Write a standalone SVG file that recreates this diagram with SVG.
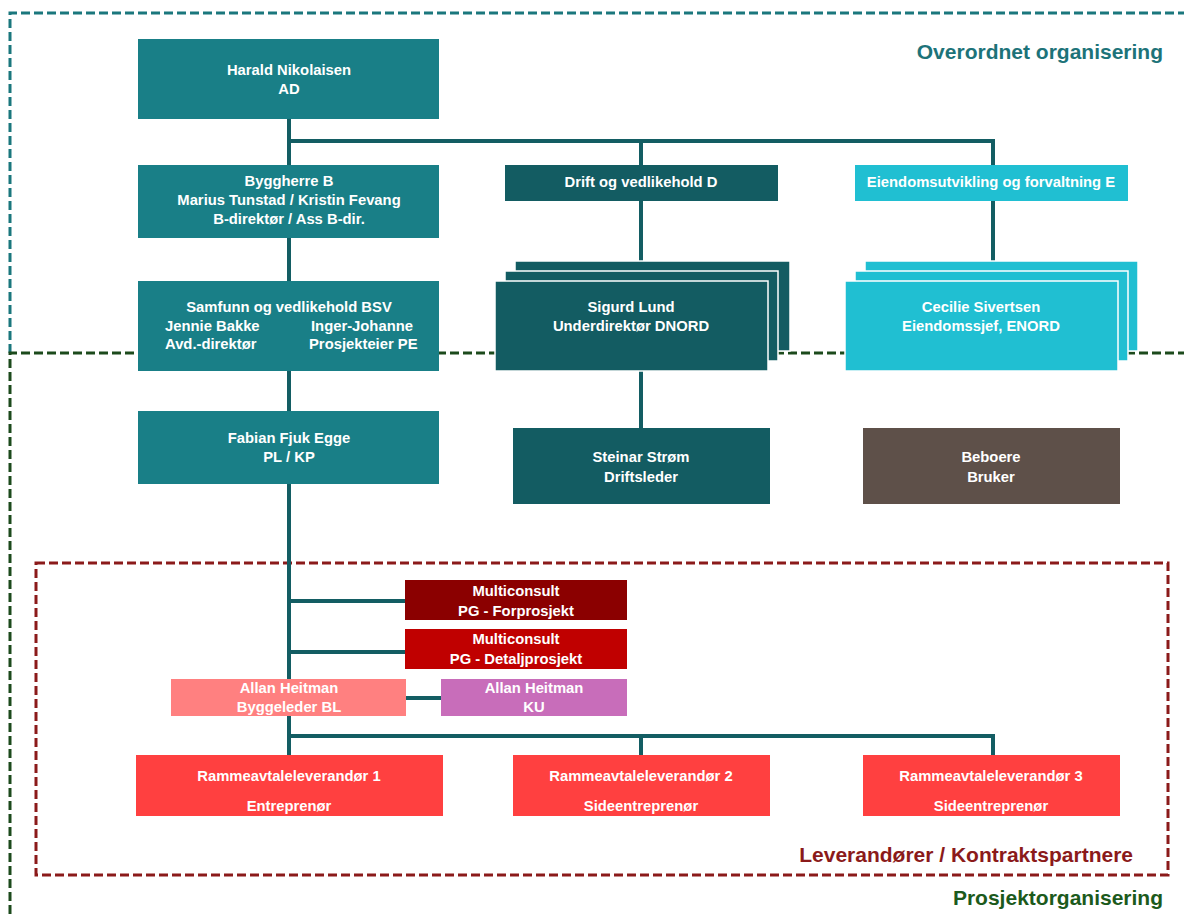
<svg xmlns="http://www.w3.org/2000/svg" width="1184" height="914" viewBox="0 0 1184 914">
<style>
.t{font-family:"Liberation Sans",Arial,sans-serif;font-weight:bold;font-size:14.8px;fill:#ffffff;text-anchor:middle}
.l{text-anchor:start}
.cap{font-family:"Liberation Sans",Arial,sans-serif;font-weight:bold;font-size:21px;text-anchor:end}
.c{stroke:#135d63;stroke-width:4;fill:none}
.teal{fill:#197f87}
.dark{fill:#135c62}
.cyan{fill:#20bfd2}
.red{fill:#ff4040}
.w{stroke:#ffffff;stroke-width:1.5}
</style>
<rect width="1184" height="914" fill="#ffffff"/>
<g id="frames" fill="none" stroke-width="3">
<path d="M10,353 V13 H1190" stroke="#1a777d" stroke-dasharray="9,4"/>
<path d="M10,914 V353 H1190" stroke="#1c4a1c" stroke-dasharray="9,4"/>
<rect x="36" y="563" width="1132" height="312" stroke="#8b1a1a" stroke-dasharray="9,4"/>
</g>
<g id="connectors" class="c">
<path d="M289,119 V411"/>
<path d="M289,141 H993 V261"/>
<path d="M641,141 V261"/>
<path d="M641,371 V428"/>
<path d="M289,484 V755"/>
<path d="M289,601 H405"/>
<path d="M289,652 H405"/>
<path d="M406,698 H441"/>
<path d="M289,736 H993 V755"/>
<path d="M641,736 V755"/>
</g>
<g id="harald"><rect class="teal" x="138" y="39" width="301" height="80"/><text class="t" x="289" y="75">Harald Nikolaisen</text><text class="t" x="289" y="94">AD</text></g>
<g id="byggherre"><rect class="teal" x="138" y="165" width="301" height="73"/><text class="t" x="289" y="186">Byggherre B</text><text class="t" x="289" y="205">Marius Tunstad / Kristin Fevang</text><text class="t" x="289" y="224">B-direktør / Ass B-dir.</text></g>
<g id="drift"><rect class="dark" x="505" y="165" width="273" height="36"/><text class="t" x="641" y="187">Drift og vedlikehold D</text></g>
<g id="eiendom"><rect class="cyan" x="855" y="165" width="273" height="36"/><text class="t" x="991" y="187">Eiendomsutvikling og forvaltning E</text></g>
<g id="samfunn"><rect class="teal" x="138" y="281" width="301" height="90"/><text class="t" x="289" y="312">Samfunn og vedlikehold BSV</text><text class="t l" x="165" y="331">Jennie Bakke</text><text class="t l" x="311" y="331">Inger-Johanne</text><text class="t l" x="165" y="349">Avd.-direktør</text><text class="t l" x="309" y="349">Prosjekteier PE</text></g>
<g id="sigurd"><rect class="dark w" x="515" y="261" width="275" height="90"/><rect class="dark w" x="505" y="271" width="273" height="90"/><rect class="dark w" x="495" y="281" width="273" height="90"/><text class="t" x="631" y="312">Sigurd Lund</text><text class="t" x="631" y="331">Underdirektør DNORD</text></g>
<g id="cecilie"><rect class="cyan w" x="865" y="261" width="273" height="90"/><rect class="cyan w" x="855" y="271" width="273" height="90"/><rect class="cyan w" x="845" y="281" width="273" height="90"/><text class="t" x="981" y="312">Cecilie Sivertsen</text><text class="t" x="981" y="331">Eiendomssjef, ENORD</text></g>
<g id="fabian"><rect class="teal" x="138" y="411" width="301" height="73"/><text class="t" x="289" y="443">Fabian Fjuk Egge</text><text class="t" x="289" y="462">PL / KP</text></g>
<g id="steinar"><rect class="dark" x="513" y="428" width="257" height="76"/><text class="t" x="641" y="462">Steinar Strøm</text><text class="t" x="641" y="482">Driftsleder</text></g>
<g id="beboere"><rect fill="#5e5049" x="863" y="428" width="257" height="76"/><text class="t" x="991" y="462">Beboere</text><text class="t" x="991" y="482">Bruker</text></g>
<g id="mc1"><rect fill="#8b0000" x="405" y="580" width="222" height="40"/><text class="t" x="516" y="596">Multiconsult</text><text class="t" x="516" y="616">PG - Forprosjekt</text></g>
<g id="mc2"><rect fill="#c00000" x="405" y="629" width="222" height="40"/><text class="t" x="516" y="644">Multiconsult</text><text class="t" x="516" y="664">PG - Detaljprosjekt</text></g>
<g id="allanbl"><rect fill="#ff8080" x="171" y="679" width="235" height="37"/><text class="t" x="289" y="693">Allan Heitman</text><text class="t" x="289" y="712">Byggeleder BL</text></g>
<g id="allanku"><rect fill="#c86dba" x="441" y="679" width="186" height="37"/><text class="t" x="534" y="693">Allan Heitman</text><text class="t" x="534" y="712">KU</text></g>
<g id="r1"><rect class="red" x="136" y="755" width="307" height="61"/><text class="t" x="289" y="781">Rammeavtaleleverandør 1</text><text class="t" x="289" y="811">Entreprenør</text></g>
<g id="r2"><rect class="red" x="513" y="755" width="257" height="61"/><text class="t" x="641" y="781">Rammeavtaleleverandør 2</text><text class="t" x="641" y="811">Sideentreprenør</text></g>
<g id="r3"><rect class="red" x="863" y="755" width="257" height="61"/><text class="t" x="991" y="781">Rammeavtaleleverandør 3</text><text class="t" x="991" y="811">Sideentreprenør</text></g>
<g id="captions">
<text class="cap" x="1163" y="59" fill="#1d7379">Overordnet organisering</text>
<text class="cap" x="1133" y="862" fill="#8b1a1a">Leverandører / Kontraktspartnere</text>
<text class="cap" x="1163" y="905" fill="#1c5a1c">Prosjektorganisering</text>
</g>
</svg>
